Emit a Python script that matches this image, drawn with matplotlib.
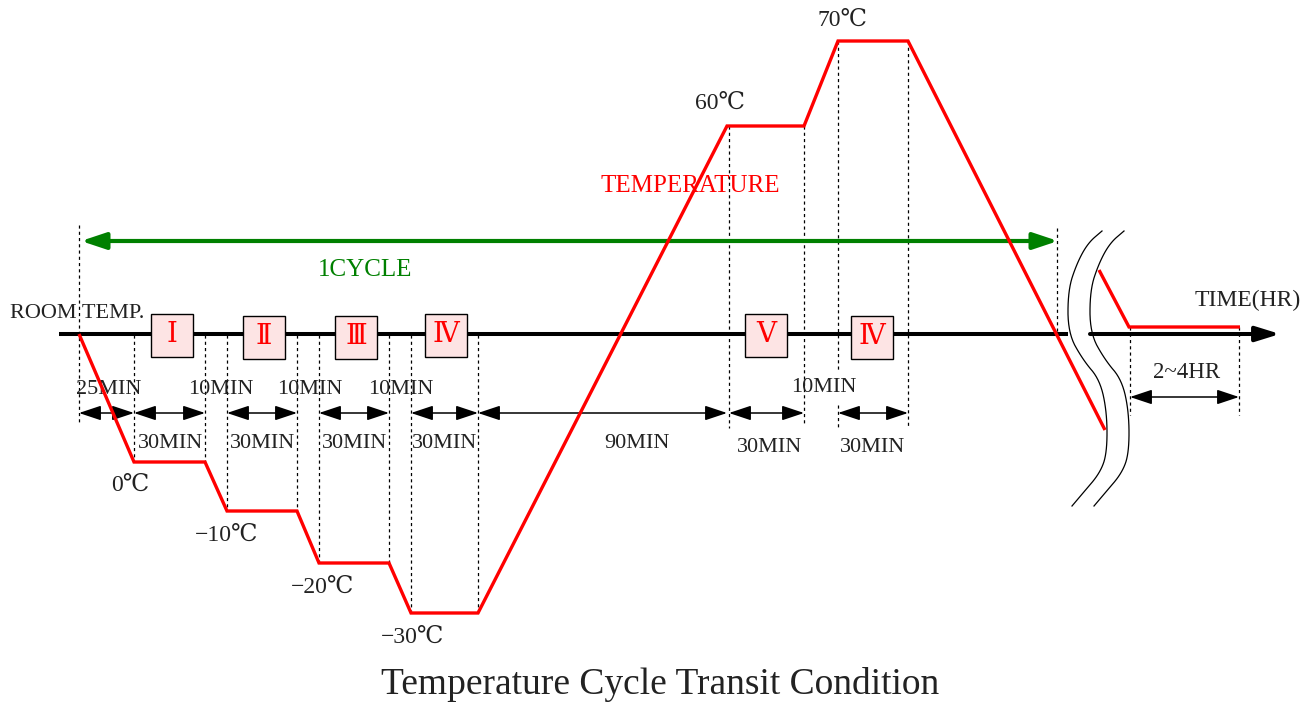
import matplotlib
matplotlib.use('Agg')
import matplotlib.pyplot as plt
from matplotlib.patches import Rectangle

FONT = ['Liberation Serif', 'DejaVu Serif', 'Noto Sans CJK KR']
plt.rcParams['font.family'] = FONT

# --- DIAGRAM DATA (schematic units, 1 unit = 1 px of the drawing) ---
# temperature profile: breakpoints along the time axis and their levels
prof_t = [79, 134, 205, 227, 297, 319, 389, 411, 478, 727, 804, 838, 908, 1105]
prof_lvl = [334, 462, 462, 511, 511, 563, 563, 613, 613, 126, 126, 41, 41, 430]
# return to room temperature after the break
tail_t = [1099, 1129, 1240]
tail_lvl = [270, 327, 327]

temp_labels = ['0℃', '−10℃', '−20℃', '−30℃', '60℃', '70℃']
temp_lab_x = [130, 227, 323, 413, 720, 842]
temp_lab_y = [485, 535, 587, 637, 103, 20]

# test steps (boxes on the time axis)
steps = ['Ⅰ', 'Ⅱ', 'Ⅲ', 'Ⅳ', 'Ⅴ', 'Ⅳ']
step_x = [172, 264, 356, 446, 766, 872]
step_y = [335, 337, 337, 335, 335, 337]

# duration arrows below the axis
dim_start = [79, 134, 227, 319, 411, 478, 729, 838]
dim_end = [134, 205, 297, 389, 478, 727, 804, 908]
dim_y = 413

dur_labels = ['25MIN', '10MIN', '10MIN', '10MIN', '10MIN',
              '30MIN', '30MIN', '30MIN', '30MIN', '90MIN', '30MIN', '30MIN']
dur_x = [109, 221, 310, 401, 824, 171, 263, 355, 445, 637, 770, 873]
dur_y = [389, 389, 389, 389, 387, 443, 443, 443, 443, 443, 447, 447]

# dashed guide lines: x, top, bottom
guide_x = [79, 134, 205, 227, 297, 319, 389, 411, 478, 729, 804, 838, 838, 908, 1057, 1130, 1239]
guide_top = [225, 335, 335, 335, 335, 335, 335, 335, 335, 126, 126, 41, 405, 41, 228, 327, 327]
guide_bot = [425, 462, 462, 511, 511, 563, 563, 613, 613, 428, 425, 372, 428, 428, 335, 415, 415]

# break symbol on the axis
brk_left_x = [1102, 1088, 1077, 1068, 1068, 1083, 1100, 1107, 1107, 1100, 1083, 1072]
brk_left_y = [231, 243, 263, 290, 333, 360, 380, 413, 453, 473, 493, 506]
brk_gap = 22


def smooth(xs, ys, n=3):
    # chaikin corner cutting, keeps the end points
    pts = list(zip(xs, ys))
    for _ in range(n):
        new = [pts[0]]
        for (x0, y0), (x1, y1) in zip(pts[:-1], pts[1:]):
            new.append((0.75 * x0 + 0.25 * x1, 0.75 * y0 + 0.25 * y1))
            new.append((0.25 * x0 + 0.75 * x1, 0.25 * y0 + 0.75 * y1))
        new.append(pts[-1])
        pts = new
    return [p[0] for p in pts], [p[1] for p in pts]


fig = plt.figure(figsize=(13.08, 7.02), dpi=100)
ax = fig.add_axes([0, 0, 1, 1])
ax.set_xlim(0, 1308)
ax.set_ylim(702, 0)
ax.axis('off')

# time axis
ax.plot([59, 1068], [334, 334], color='black', lw=2.9, solid_capstyle='butt', zorder=2)
ax.annotate('', xy=(1280, 334), xytext=(1090, 334),
            arrowprops=dict(arrowstyle='-|>,head_length=1.45,head_width=0.45', color='black',
                            lw=2.9, shrinkA=0, shrinkB=0, mutation_scale=10), zorder=2)

# dashed guides
for x, t, b in zip(guide_x, guide_top, guide_bot):
    ax.plot([x, x], [t, b], color='black', lw=0.9, ls=(0, (2.5, 2.5)), zorder=1)

# break symbol
bx, by = smooth(brk_left_x, brk_left_y)
ax.plot(bx, by, color='black', lw=0.9, zorder=3)
ax.plot([x + brk_gap for x in bx], by, color='black', lw=0.9, zorder=3)

# temperature profile
ax.plot(prof_t, prof_lvl, color='red', lw=2.4, solid_joinstyle='miter',
        solid_capstyle='butt', zorder=4)
ax.plot(tail_t, tail_lvl, color='red', lw=2.4, solid_joinstyle='miter',
        solid_capstyle='butt', zorder=4)

# step boxes
for s, x, y in zip(steps, step_x, step_y):
    ax.add_patch(Rectangle((x - 21, y - 21.5), 42, 43, facecolor='#fde4e4',
                           edgecolor='black', lw=1.0, zorder=5))
    ax.text(x, y + 1, s, color='red', fontsize=20, ha='center', va='center', zorder=6)

# duration arrows
arrow_kw = dict(arrowstyle='<|-|>,head_length=1.35,head_width=0.45', color='black',
                lw=1.1, shrinkA=0, shrinkB=0, mutation_scale=10)
for a, b in zip(dim_start, dim_end):
    ax.annotate('', xy=(b, dim_y), xytext=(a, dim_y), arrowprops=arrow_kw)
ax.annotate('', xy=(1239, 397), xytext=(1130, 397), arrowprops=arrow_kw)

for s, x, y in zip(dur_labels, dur_x, dur_y):
    ax.text(x, y, s, fontsize=16, ha='center', va='center', color='#222222')
ax.text(1187, 373, '2~4HR', fontsize=16.5, ha='center', va='center', color='#222222')

for s, x, y in zip(temp_labels, temp_lab_x, temp_lab_y):
    ax.text(x, y, s, fontsize=17, ha='center', va='center', color='#222222')

# 1 cycle arrow
ax.annotate('', xy=(1058, 241), xytext=(81, 241),
            arrowprops=dict(arrowstyle='<|-|>,head_length=1.5,head_width=0.5', color='#008000',
                            lw=3.0, shrinkA=0, shrinkB=0, mutation_scale=10))
ax.text(365, 270, '1CYCLE', fontsize=18, color='#008000', ha='center', va='center')

ax.text(690, 186, 'TEMPERATURE', fontsize=18, color='red', ha='center', va='center')
ax.text(10, 314, 'ROOM TEMP.', fontsize=16, ha='left', va='center', color='#222222')
ax.text(1195, 300, 'TIME(HR)', fontsize=17, ha='left', va='center', color='#222222')

ax.text(660, 685, 'Temperature Cycle Transit Condition', fontsize=27, ha='center',
        va='center', color='#222222')

fig.savefig('out.png', dpi=100)
